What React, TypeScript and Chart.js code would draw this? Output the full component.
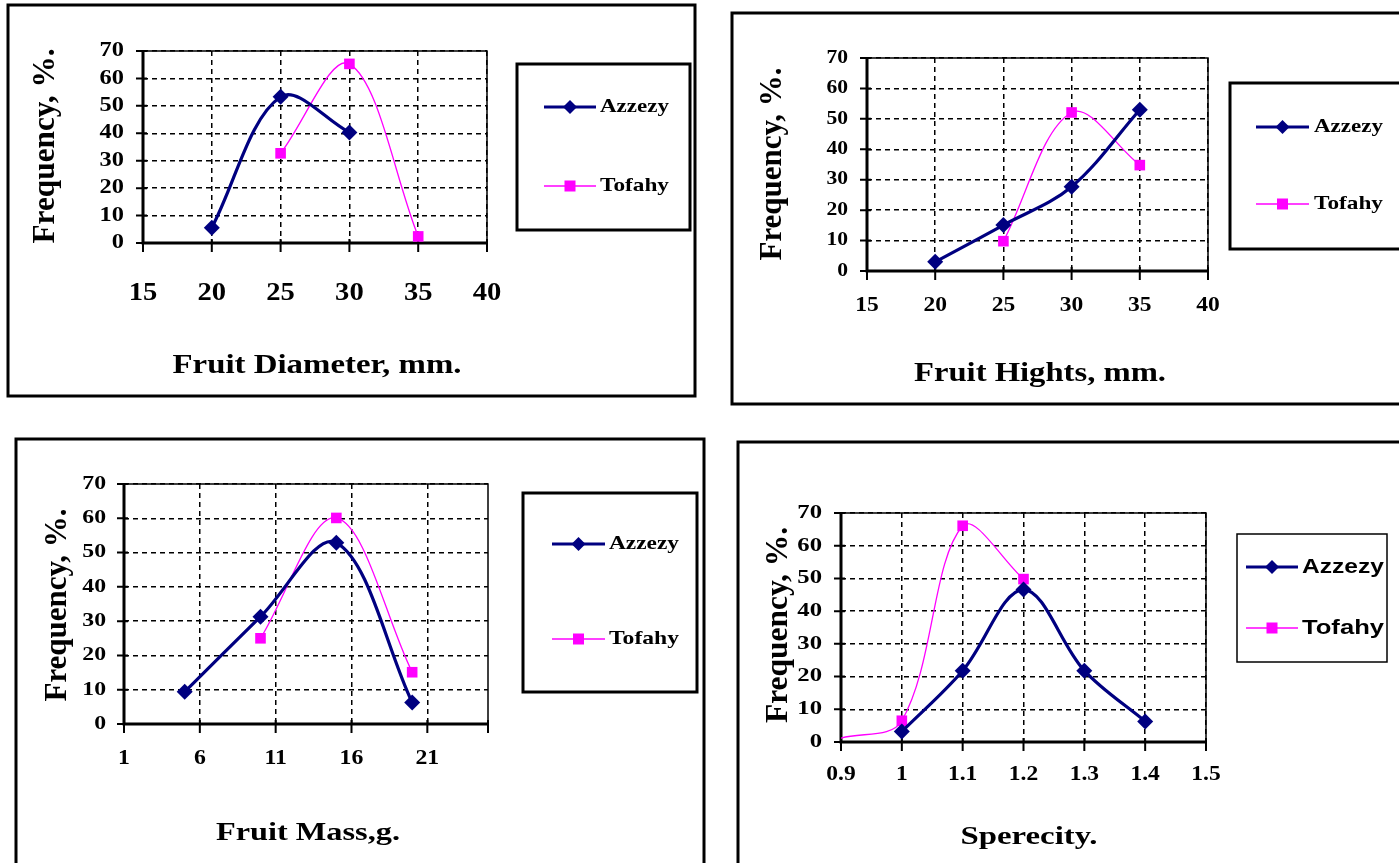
import React, { useEffect, useRef } from 'react';
import { Chart, registerables } from 'chart.js';

Chart.register(...registerables);

// ---------------- DATA ----------------
const freqTicks = [0, 10, 20, 30, 40, 50, 60, 70];
const seriesNames = ['Azzezy', 'Tofahy'];

const diameterTicks = [15, 20, 25, 30, 35, 40];
const diameterAzzezyX = [20, 25, 30];
const diameterAzzezyY = [5.6, 53.3, 40.3];
const diameterTofahyX = [25, 30, 35];
const diameterTofahyY = [32.7, 65.3, 2.4];

const heightTicks = [15, 20, 25, 30, 35, 40];
const heightAzzezyX = [20, 25, 30, 35];
const heightAzzezyY = [3, 15.1, 27.7, 53];
const heightTofahyX = [25, 30, 35];
const heightTofahyY = [9.8, 52.1, 34.8];

const massTicks = [1, 6, 11, 16, 21];
const massAzzezyX = [5, 10, 15, 20];
const massAzzezyY = [9.4, 31.3, 52.9, 6.3];
const massTofahyX = [10, 15, 20];
const massTofahyY = [25, 60.1, 15.1];

const spherTicks = [0.9, 1, 1.1, 1.2, 1.3, 1.4, 1.5];
const spherAzzezyX = [1, 1.1, 1.2, 1.3, 1.4];
const spherAzzezyY = [3.2, 21.8, 46.6, 21.8, 6.3];
const spherTofahyX = [0.9, 1, 1.1, 1.2];
const spherTofahyY = [1.2, 6.5, 66.1, 49.8];

// ---------------- STYLE / LAYOUT ----------------
const W = 1399;
const H = 863;
const SERIF = '"Liberation Serif", "Times New Roman", serif';
const SANS = '"Liberation Sans", Arial, sans-serif';
const NAVY = '#000080';
const MAGENTA = '#FF00FF';

type Panel = {
  box: number[];
  plot: number[]; // L, T, R, B
  xMin: number; xMax: number; xTicks: number[];
  xTickFont: number; xTickSx: number; xTickY: number;
  yTickFont: number; yTickSx: number; yTickRight: number;
  xTitle: string; xTitleX: number; xTitleY: number; xTitleFont: number; xTitleW: number;
  yTitleX: number; yTitleY: number; yTitleFont: number; yTitleLen: number; yTitleThick: number;
  legBox: number[]; legBorder: number; legRows: number[]; legLine: number[]; legTextX: number;
  legFont: number; legFamily: string; legTextW: number;
  azzX: number[]; azzY: number[]; tofX: number[]; tofY: number[];
  tofHideFirst?: boolean;
};

const panels: Panel[] = [
  {
    box: [8, 5, 695, 396], plot: [143, 51, 487, 243],
    xMin: 15, xMax: 40, xTicks: diameterTicks,
    xTickFont: 26, xTickSx: 1.1, xTickY: 293,
    yTickFont: 20, yTickSx: 1.22, yTickRight: 124,
    xTitle: 'Fruit Diameter, mm.', xTitleX: 317, xTitleY: 366, xTitleFont: 27, xTitleW: 289,
    yTitleX: 46, yTitleY: 146, yTitleFont: 26, yTitleLen: 195, yTitleThick: 1.2,
    legBox: [517, 64, 690, 230], legBorder: 3, legRows: [107, 186], legLine: [544, 596], legTextX: 600,
    legFont: 19, legFamily: SERIF, legTextW: 69,
    azzX: diameterAzzezyX, azzY: diameterAzzezyY, tofX: diameterTofahyX, tofY: diameterTofahyY,
  },
  {
    box: [732, 13, 1410, 404], plot: [867, 58, 1208, 271],
    xMin: 15, xMax: 40, xTicks: heightTicks,
    xTickFont: 22, xTickSx: 1.07, xTickY: 305,
    yTickFont: 18, yTickSx: 1.2, yTickRight: 848,
    xTitle: 'Fruit Hights, mm.', xTitleX: 1040, xTitleY: 374, xTitleFont: 27, xTitleW: 252,
    yTitleX: 773, yTitleY: 164, yTitleFont: 26, yTitleLen: 193, yTitleThick: 1.2,
    legBox: [1230, 83, 1410, 249], legBorder: 3, legRows: [127, 204], legLine: [1256, 1309], legTextX: 1314,
    legFont: 19, legFamily: SERIF, legTextW: 69,
    azzX: heightAzzezyX, azzY: heightAzzezyY, tofX: heightTofahyX, tofY: heightTofahyY,
  },
  {
    box: [16, 439, 704, 875], plot: [124, 484, 488, 724],
    xMin: 1, xMax: 25, xTicks: massTicks,
    xTickFont: 22, xTickSx: 1.08, xTickY: 758,
    yTickFont: 19, yTickSx: 1.25, yTickRight: 106,
    xTitle: 'Fruit Mass,g.', xTitleX: 308, xTitleY: 833, xTitleFont: 26, xTitleW: 184,
    yTitleX: 58, yTitleY: 605, yTitleFont: 26, yTitleLen: 193, yTitleThick: 1.2,
    legBox: [523, 493, 697, 692], legBorder: 3, legRows: [544, 639], legLine: [552, 605], legTextX: 609,
    legFont: 19, legFamily: SERIF, legTextW: 70,
    azzX: massAzzezyX, azzY: massAzzezyY, tofX: massTofahyX, tofY: massTofahyY,
  },
  {
    box: [738, 442, 1410, 875], plot: [841, 513, 1206, 742],
    xMin: 0.9, xMax: 1.5, xTicks: spherTicks,
    xTickFont: 21, xTickSx: 1.12, xTickY: 775,
    yTickFont: 19, yTickSx: 1.3, yTickRight: 822,
    xTitle: 'Sperecity.', xTitleX: 1029, xTitleY: 837, xTitleFont: 26, xTitleW: 137,
    yTitleX: 779, yTitleY: 625, yTitleFont: 26, yTitleLen: 196, yTitleThick: 1.2,
    legBox: [1237, 534, 1387, 662], legBorder: 1.5, legRows: [567, 628], legLine: [1246, 1298], legTextX: 1302,
    legFont: 21, legFamily: SANS, legTextW: 82,
    azzX: spherAzzezyX, azzY: spherAzzezyY, tofX: spherTofahyX, tofY: spherTofahyY,
    tofHideFirst: true,
  },
];

function fmt(v: number) {
  return String(Math.round(v * 100) / 100);
}

function drawText(
  ctx: CanvasRenderingContext2D, text: string, x: number, y: number,
  font: string, align: CanvasTextAlign, sx: number, sy = 1, rot = 0,
) {
  ctx.save();
  ctx.translate(x, y);
  if (rot) ctx.rotate(rot);
  ctx.scale(sx, sy);
  ctx.font = font;
  ctx.fillStyle = '#000';
  ctx.textAlign = align;
  ctx.textBaseline = 'middle';
  ctx.fillText(text, 0, 0);
  ctx.restore();
}

function fitScale(ctx: CanvasRenderingContext2D, text: string, font: string, target: number) {
  ctx.save();
  ctx.font = font;
  const w = ctx.measureText(text).width;
  ctx.restore();
  return w > 0 ? target / w : 1;
}

function diamond(ctx: CanvasRenderingContext2D, x: number, y: number, r: number) {
  ctx.beginPath();
  ctx.moveTo(x - r, y);
  ctx.lineTo(x, y - r);
  ctx.lineTo(x + r, y);
  ctx.lineTo(x, y + r);
  ctx.closePath();
  ctx.fill();
}

function makePlugin(p: Panel) {
  return {
    id: 'panelDecor',
    beforeDraw(chart: any) {
      const ctx: CanvasRenderingContext2D = chart.ctx;
      const [x1, y1, x2, y2] = p.box;
      ctx.save();
      ctx.strokeStyle = '#000';
      ctx.lineWidth = 3;
      ctx.strokeRect(x1, y1, x2 - x1, y2 - y1);
      ctx.restore();
    },
    beforeDatasetsDraw(chart: any) {
      const ctx: CanvasRenderingContext2D = chart.ctx;
      const { left: L, right: R, top: T, bottom: B } = chart.chartArea;
      const xs = chart.scales.x;
      const ys = chart.scales.y;
      ctx.save();
      ctx.strokeStyle = '#000';
      ctx.lineWidth = 1.5;
      ctx.beginPath();
      ctx.moveTo(L, T); ctx.lineTo(R, T); ctx.lineTo(R, B);
      ctx.stroke();
      ctx.lineWidth = 2;
      ctx.beginPath();
      for (const t of freqTicks) {
        const py = ys.getPixelForValue(t);
        ctx.moveTo(L - 7, py); ctx.lineTo(L + 4, py);
      }
      for (const t of p.xTicks) {
        const px = xs.getPixelForValue(t);
        ctx.moveTo(px, B - 4); ctx.lineTo(px, B + 9);
      }
      if (!p.xTicks.includes(p.xMax)) {
        ctx.moveTo(R, B - 4); ctx.lineTo(R, B + 9);
      }
      ctx.stroke();
      ctx.lineWidth = 3;
      ctx.beginPath();
      ctx.moveTo(L, T); ctx.lineTo(L, B); ctx.lineTo(R, B);
      ctx.stroke();
      ctx.restore();
    },
    afterDraw(chart: any) {
      const ctx: CanvasRenderingContext2D = chart.ctx;
      const xs = chart.scales.x;
      const ys = chart.scales.y;
      const yFont = `bold ${p.yTickFont}px ${SERIF}`;
      for (const t of freqTicks) {
        drawText(ctx, fmt(t), p.yTickRight, ys.getPixelForValue(t), yFont, 'right', p.yTickSx);
      }
      const xFont = `bold ${p.xTickFont}px ${SERIF}`;
      for (const t of p.xTicks) {
        drawText(ctx, fmt(t), xs.getPixelForValue(t), p.xTickY, xFont, 'center', p.xTickSx);
      }
      const xtFont = `bold ${p.xTitleFont}px ${SERIF}`;
      drawText(ctx, p.xTitle, p.xTitleX, p.xTitleY, xtFont, 'center', fitScale(ctx, p.xTitle, xtFont, p.xTitleW));
      const ytText = 'Frequency, %.';
      const ytFont = `bold ${p.yTitleFont}px ${SERIF}`;
      drawText(ctx, ytText, p.yTitleX, p.yTitleY, ytFont, 'center',
        fitScale(ctx, ytText, ytFont, p.yTitleLen), p.yTitleThick, -Math.PI / 2);
      const [bx1, by1, bx2, by2] = p.legBox;
      ctx.save();
      ctx.strokeStyle = '#000';
      ctx.lineWidth = p.legBorder;
      ctx.strokeRect(bx1, by1, bx2 - bx1, by2 - by1);
      ctx.restore();
      const lf = `bold ${p.legFont}px ${p.legFamily}`;
      const styles = [
        { color: NAVY, width: 3, marker: 'diamond' },
        { color: MAGENTA, width: 1.5, marker: 'square' },
      ];
      seriesNames.forEach((name, i) => {
        const y = p.legRows[i];
        const st = styles[i];
        ctx.save();
        ctx.strokeStyle = st.color;
        ctx.fillStyle = st.color;
        ctx.lineWidth = st.width;
        ctx.beginPath();
        ctx.moveTo(p.legLine[0], y);
        ctx.lineTo(p.legLine[1], y);
        ctx.stroke();
        const cx = (p.legLine[0] + p.legLine[1]) / 2;
        if (st.marker === 'diamond') diamond(ctx, cx, y, 7);
        else ctx.fillRect(cx - 5.5, y - 5.5, 11, 11);
        ctx.restore();
        drawText(ctx, name, p.legTextX, y, lf, 'left', fitScale(ctx, name, lf, p.legTextW));
      });
    },
  };
}

function PanelChart({ p }: { p: Panel }) {
  const ref = useRef<HTMLCanvasElement>(null);
  useEffect(() => {
    if (!ref.current) return;
    const [L, T, R, B] = p.plot;
    const chart = new Chart(ref.current, {
      type: 'line',
      data: {
        datasets: [
          {
            label: seriesNames[0],
            data: p.azzX.map((x, i) => ({ x, y: p.azzY[i] })),
            borderColor: NAVY,
            backgroundColor: NAVY,
            borderWidth: 3.2,
            pointStyle: 'rectRot',
            pointRadius: 8,
            pointBorderWidth: 0,
            tension: 0.35,
            fill: false,
          },
          {
            label: seriesNames[1],
            data: p.tofX.map((x, i) => ({ x, y: p.tofY[i] })),
            borderColor: MAGENTA,
            backgroundColor: MAGENTA,
            borderWidth: 1.3,
            pointStyle: 'rect',
            pointRadius: p.tofX.map((_, i) => (p.tofHideFirst && i === 0 ? 0 : 7.5)),
            pointBorderWidth: 0,
            tension: 0.35,
            fill: false,
          },
        ],
      },
      options: {
        responsive: false,
        animation: false,
        devicePixelRatio: 1,
        layout: { padding: { left: L, top: T, right: W - R, bottom: H - B } },
        plugins: { legend: { display: false }, tooltip: { enabled: false } },
        scales: {
          x: {
            type: 'linear',
            min: p.xMin,
            max: p.xMax,
            afterBuildTicks: (s: any) => { s.ticks = p.xTicks.map((v) => ({ value: v })); },
            afterFit: (s: any) => { s.height = 0; },
            ticks: { display: false },
            grid: { color: '#000', lineWidth: 1.5, drawTicks: false },
            border: { display: false, dash: [5, 4] },
          },
          y: {
            type: 'linear',
            min: 0,
            max: 70,
            afterBuildTicks: (s: any) => { s.ticks = freqTicks.map((v) => ({ value: v })); },
            afterFit: (s: any) => { s.width = 0; },
            ticks: { display: false },
            grid: { color: '#000', lineWidth: 1.5, drawTicks: false },
            border: { display: false, dash: [5, 4] },
          },
        },
      },
      plugins: [makePlugin(p)],
    } as any);
    return () => chart.destroy();
  }, [p]);
  return (
    <canvas
      ref={ref}
      width={W}
      height={H}
      style={{ position: 'absolute', left: 0, top: 0, width: W, height: H }}
    />
  );
}

export default function App() {
  return (
    <div
      style={{
        position: 'absolute', left: 0, top: 0, width: W, height: H,
        background: '#fff', overflow: 'hidden',
      }}
    >
      {panels.map((p, i) => (
        <PanelChart key={i} p={p} />
      ))}
    </div>
  );
}
